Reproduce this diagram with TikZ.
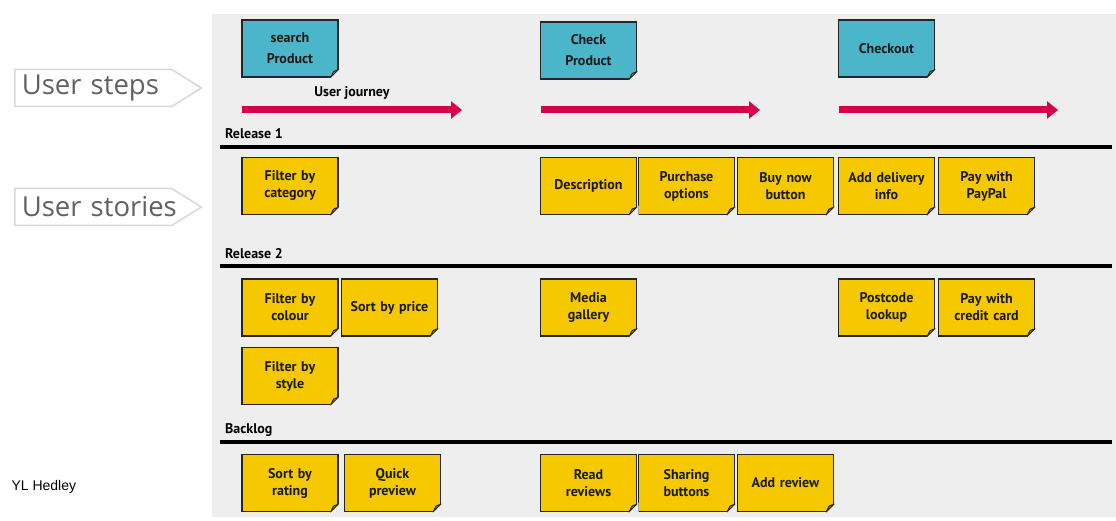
\documentclass[tikz,border=0pt]{standalone}
\usepackage{fontspec}
\setmainfont{PT Sans}
\newfontfamily\tagfont{Open Sans}
\newfontfamily\creditfont{Liberation Sans}
\usetikzlibrary{positioning, shapes.symbols, arrows.meta, calc}
\definecolor{panel}{HTML}{EEEEEE}
\definecolor{stepblue}{HTML}{4BB5C9}
\definecolor{storyyellow}{HTML}{F5C800}
\definecolor{foldyellow}{HTML}{A88A10}
\definecolor{journeyred}{HTML}{D6004F}
\definecolor{tagline}{HTML}{D8D8D8}

\begin{document}
\begin{tikzpicture}[
      x=1pt, y=-1pt,
      note/.style={
        rectangle,
        minimum width=96pt,
        minimum height=57pt,
        text width=88pt,
        inner sep=0pt,
        align=center,
        draw=black!85,
        line width=1.1pt,
        font=\bfseries\fontsize{14}{17}\selectfont,
        text=black!90,
      },
      stepnote/.style={note, fill=stepblue, font=\bfseries\fontsize{14}{21}\selectfont},
      story/.style={note, fill=storyyellow},
      corner/.style={fill=panel},
      fold/.style={fill=foldyellow, draw=black!85, line width=0.9pt, line join=round},
      journey/.style={journeyred, line width=7pt, -{Triangle[length=11pt,width=17pt]}},
      release/.style={black, line width=3.5pt},
      heading/.style={anchor=west, inner sep=0pt, font=\bfseries\fontsize{14}{16}\selectfont},
      tag/.style={
        signal, signal to=east, signal pointer angle=64,
        minimum height=37pt, anchor=west,
        draw=tagline, line width=1.5pt, fill=white,
        text=black!62, font=\tagfont\fontsize{27.5}{30}\selectfont,
        text width=143pt, align=left, inner xsep=7pt, inner ysep=0pt,
      },
      ]
      \useasboundingbox (0,0) rectangle (1116,521);
      \fill[panel] (212,14) rectangle (1116,517);

      % left labels
      \node[tag] (steps) at (14,88) {\mbox{User steps}};
      \node[tag] (stories) at (14,207) {\mbox{User stories}};
      \node[anchor=west, font=\creditfont\fontsize{14}{16}\selectfont] (credit) at (8,487) {YL Hedley};

      % user steps
      \node[stepnote] (search) at (290,48.5) {search\\Product};
      \node[stepnote] (check) at (588.5,50.5) {Check\\Product};
      \node[stepnote] (checkout) at (886.5,48.5) {Checkout};

      % user journey
      \node[heading, anchor=center] (journey) at (352,93) {User journey};
      \coordinate (j1a) at (242,110);
      \coordinate (j1b) at (462,110);
      \coordinate (j2a) at (541,110);
      \coordinate (j2b) at (760,110);
      \coordinate (j3a) at (839,110);
      \coordinate (j3b) at (1058,110);
      \draw[journey] (j1a) -- (j1b);
      \draw[journey] (j2a) -- (j2b);
      \draw[journey] (j3a) -- (j3b);

      % release lines
      \node[heading] (rel1) at (225,134) {Release 1};
      \node[heading] (rel2) at (225,254) {Release 2};
      \node[heading] (backlog) at (225,430) {Backlog};
      \coordinate (r1a) at (220,147);
      \coordinate (r1b) at (1112,147);
      \coordinate (r2a) at (220,266);
      \coordinate (r2b) at (1112,266);
      \coordinate (r3a) at (220,442);
      \coordinate (r3b) at (1112,442);
      \draw[release] (r1a) -- (r1b);
      \draw[release] (r2a) -- (r2b);
      \draw[release] (r3a) -- (r3b);

      % release 1
      \node[story] (category) at (290,186) {Filter by\\category};
      \node[story] (descr) at (588.5,186) {Description};
      \node[story] (purchase) at (686.5,186) {Purchase\\options};
      \node[story] (buynow) at (785.5,186) {Buy now\\button};
      \node[story] (delivery) at (886.5,186) {Add delivery\\info};
      \node[story] (paypal) at (986.5,186) {Pay with\\PayPal};

      % release 2
      \node[story] (colour) at (290,307.5) {Filter by\\colour};
      \node[story] (price) at (389.5,307.5) {Sort by price};
      \node[story] (style) at (290,376) {Filter by\\style};
      \node[story] (media) at (588.5,307.5) {Media\\gallery};
      \node[story] (postcode) at (886.5,307.5) {Postcode\\lookup};
      \node[story] (creditcard) at (986.5,307.5) {Pay with\\credit card};

      % backlog
      \node[story] (rating) at (290,483) {Sort by\\rating};
      \node[story] (preview) at (392.5,483) {Quick\\preview};
      \node[story] (reviews) at (588.5,483) {Read\\reviews};
      \node[story] (sharing) at (686.5,483) {Sharing\\buttons};
      \node[story] (addreview) at (785.5,483) {Add review};

      % curled corners
      \foreach \n in {search,check,checkout,category,descr,purchase,buynow,delivery,paypal,
                      colour,price,style,media,postcode,creditcard,rating,preview,reviews,sharing,addreview}{
        \coordinate (c) at (\n.east |- \n.south);
        \fill[corner] ($(c)+(-9.5pt,-1.5pt)$) -- ($(c)+(1.5pt,-1.5pt)$) -- ($(c)+(1.5pt,9.5pt)$) -- cycle;
        \draw[fold] ($(c)+(-8pt,0pt)$) -- ($(c)+(0pt,8pt)$) -- ($(c)+(-5pt,6pt)$) -- cycle;
      }
    \end{tikzpicture}
\end{document}
